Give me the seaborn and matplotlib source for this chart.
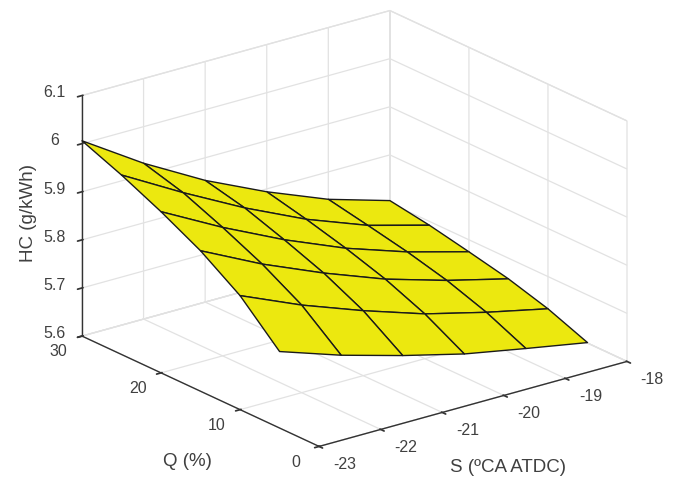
import matplotlib
matplotlib.use("Agg")
import numpy as np
import seaborn as sns
import matplotlib.pyplot as plt
from matplotlib.transforms import Affine2D
from mpl_toolkits.mplot3d import proj3d

S_VALUES = [-23, -22, -21, -20, -19, -18]
Q_VALUES = [30, 25, 20, 15, 10, 5]
HC_Q30 = [6.006, 5.924, 5.853, 5.794, 5.743, 5.705]
HC_Q25 = [5.973, 5.901, 5.834, 5.775, 5.727, 5.692]
HC_Q20 = [5.935, 5.867, 5.806, 5.753, 5.710, 5.675]
HC_Q15 = [5.892, 5.829, 5.775, 5.727, 5.689, 5.657]
HC_Q10 = [5.837, 5.782, 5.735, 5.693, 5.661, 5.633]
HC_Q5 = [5.759, 5.716, 5.680, 5.648, 5.624, 5.601]
S_TICKS = [-23, -22, -21, -20, -19, -18]
Q_TICKS = [0, 10, 20, 30]
HC_TICKS = [5.6, 5.7, 5.8, 5.9, 6.0, 6.1]
HC_LABELS = ["5.6", "5.7", "5.8", "5.9", "6", "6.1"]

sns.set_theme(style="white")
plt.rcParams["font.family"] = ["Liberation Sans", "DejaVu Sans"]
plt.rcParams["axes.unicode_minus"] = False
TXT = "#404040"
W, H = 681, 478
fig = plt.figure(figsize=(W / 100, H / 100), dpi=100)
ax = fig.add_axes([0, (H - W) / 2 / H, 1, W / H], projection="3d", computed_zorder=False)
ax.set_proj_type("ortho")
ax.view_init(elev=21, azim=-127.6)

X, Y = np.meshgrid(S_VALUES, Q_VALUES)
Z = np.array([HC_Q30, HC_Q25, HC_Q20, HC_Q15, HC_Q10, HC_Q5])
ax.plot_surface(X, Y, Z, color="#ece80f", shade=False, edgecolor="#1a1a1a",
                linewidth=1.0, rstride=1, cstride=1, antialiased=True)
ax.set_xlim(-23, -18, view_margin=0)
ax.set_ylim(0, 30, view_margin=0)
ax.set_zlim(5.6, 6.1, view_margin=0)
ax.set_xticks(S_TICKS)
ax.set_yticks(Q_TICKS)
ax.set_zticks(HC_TICKS)
ax.set_zticklabels(HC_LABELS)
ax.set_xticklabels([str(v) for v in S_TICKS])
ax.set_yticklabels([str(v) for v in Q_TICKS])

for a in (ax.xaxis, ax.yaxis, ax.zaxis):
    a.set_pane_color((1, 1, 1, 1))
    a.pane.set_edgecolor("#dedede")
    a.pane.set_linewidth(0.9)
    a.line.set_color("#333333")
    a.line.set_linewidth(1.0)
    a._axinfo["grid"].update(color="#e2e2e2", linewidth=0.9)
    a._axinfo["tick"].update(inward_factor=0.18, outward_factor=0.04)
    a.set_rotate_label(False)
ax.grid(True)
ax.tick_params(labelsize=11.5, labelcolor=TXT, color="#333333", width=1.0, pad=4)
ax.set_xlabel("S (ºCA ATDC)", fontsize=13.5, color=TXT, rotation=0, labelpad=14)
ax.set_ylabel("Q (%)", fontsize=13.5, color=TXT, rotation=0, labelpad=14)
ax.set_zlabel("HC (g/kWh)", fontsize=13.5, color=TXT, rotation=90, labelpad=14)

# Axis3D resets text transforms while drawing, so apply screen nudges (pixels, y up) at draw time.
def nudge(artist, dx, dy):
    draw = artist.draw
    def shifted(renderer):
        artist.set_transform(ax.transData + Affine2D().translate(dx, dy))
        draw(renderer)
    artist.draw = shifted

for axis, dx, dy in ((ax.xaxis, 14, 6), (ax.yaxis, -9, 7), (ax.zaxis, -2, 9)):
    for t in axis.get_major_ticks():
        nudge(t.label1, dx, dy)
nudge(ax.xaxis.label, 2, -15)
nudge(ax.yaxis.label, 29, -26)
nudge(ax.zaxis.label, 21, -1)

# Fit the box to the reference's frame: S=-23,Q=0 floor corner and S=-18 corner.
def px(x, y, z):
    M = ax.get_proj()
    u, v, _ = proj3d.proj_transform(x, y, z, M)
    return ax.transData.transform((u, v))

target_width = 627 - 82
target_center = ((627 + 82) / 2, H - (12 + 445) / 2)
zoom = 1.0
ax.set_box_aspect((1, 1, 0.663), zoom=zoom)
fig.canvas.draw()
for _ in range(2):
    w = px(-18, 0, 5.6)[0] - px(-23, 30, 5.6)[0]
    zoom *= target_width / w
    ax.set_box_aspect((1, 1, 0.663), zoom=zoom)
    fig.canvas.draw()
cx = (px(-18, 0, 5.6)[0] + px(-23, 30, 5.6)[0]) / 2
cy = (px(-23, 0, 5.6)[1] + px(-18, 30, 6.1)[1]) / 2
pos = ax.get_position(original=True)
ax.set_position([pos.x0 + (target_center[0] - cx) / W, pos.y0 + (target_center[1] - cy) / H, pos.width, pos.height])
fig.savefig("out.png", dpi=100)
